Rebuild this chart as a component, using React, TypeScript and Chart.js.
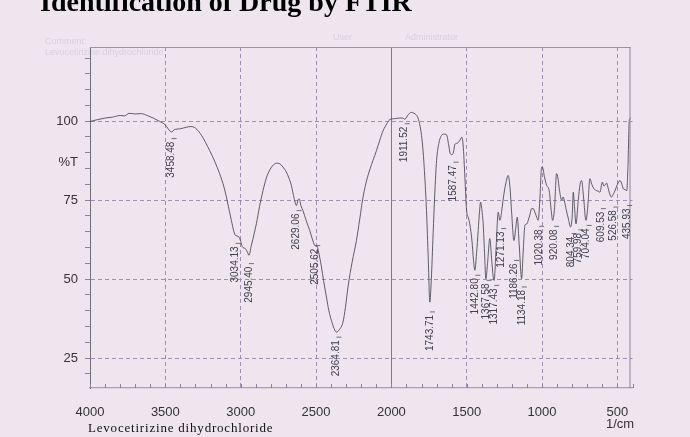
import React, { useEffect, useRef } from 'react';
import { Chart, registerables } from 'chart.js';

Chart.register(...registerables);

// Spectrum trace (wavenumber in 1/cm, transmittance in %T)
const wavenumbers = [
  4000, 3950, 3900, 3850, 3800, 3770, 3740, 3700, 3660, 3620, 3580, 3540, 3500, 3470, 3458, 3440, 3400, 3360, 3330, 3300,
  3260, 3206, 3170, 3140, 3110, 3095, 3075, 3062, 3045, 3034, 3015, 3000, 2990, 2975, 2965, 2955, 2945, 2930, 2910, 2896,
  2875, 2852, 2830, 2819, 2790, 2760, 2740, 2720, 2697, 2680, 2664, 2645, 2630, 2620, 2612, 2600, 2587, 2565, 2542, 2520,
  2506, 2495, 2485, 2464, 2450, 2431, 2415, 2398, 2380, 2364, 2345, 2321, 2305, 2288, 2260, 2232, 2210, 2188, 2160, 2122,
  2099, 2077, 2055, 2030, 2011, 1980, 1944, 1925, 1911, 1895, 1880, 1867, 1850, 1835, 1823, 1810, 1800, 1790, 1778, 1767,
  1755, 1745, 1735, 1723, 1712, 1700, 1685, 1667, 1650, 1634, 1620, 1610, 1598, 1588, 1579, 1565, 1557, 1545, 1534, 1524,
  1512, 1501, 1490, 1480, 1465, 1455, 1446, 1435, 1424, 1415, 1408, 1400, 1391, 1382, 1373, 1362, 1347, 1335, 1325, 1318,
  1305, 1291, 1280, 1268, 1258, 1240, 1225, 1213, 1202, 1187, 1175, 1165, 1152, 1140, 1136, 1126, 1114, 1100, 1092, 1080,
  1070, 1058, 1048, 1035, 1026, 1015, 1003, 997, 985, 970, 953, 940, 930, 918, 904, 895, 886, 870, 860, 853,
  840, 825, 811, 800, 793, 785, 775, 760, 748, 738, 725, 709, 695, 683, 670, 656, 638, 625, 616, 600,
  590, 583, 572, 560, 545, 538, 527, 516, 500, 483, 470, 461, 450, 438, 430, 421, 412
];
const transmittance = [
  99.9, 100.5, 101.0, 101.3, 101.8, 101.7, 102.5, 102.3, 102.4, 101.8, 101.0, 100.0, 98.8, 96.9, 96.6, 97.3, 97.6, 98.1, 98.3, 97.8,
  95.5, 90.7, 87.0, 83.4, 79.0, 76.0, 71.5, 68.6, 65.0, 63.8, 63.5, 62.0, 60.3, 59.8, 59.4, 58.5, 57.5, 60.5, 64.5, 67.5,
  73.0, 78.0, 82.0, 83.4, 85.8, 86.7, 86.5, 85.5, 83.9, 82.0, 79.7, 75.5, 73.3, 75.0, 75.4, 73.2, 71.7, 68.5, 65.4, 62.0,
  60.5, 60.6, 59.0, 53.8, 49.5, 44.3, 40.0, 36.9, 34.3, 33.2, 34.0, 36.4, 41.0, 47.5, 55.5, 62.2, 69.0, 76.0, 82.0, 87.6,
  90.7, 94.0, 97.0, 99.2, 100.5, 100.8, 101.0, 101.0, 100.6, 101.6, 102.5, 102.8, 102.5, 102.0, 101.0, 98.5, 95.5, 90.7, 82.0, 71.7,
  56.0, 42.7, 50.0, 64.4, 77.0, 87.6, 93.0, 95.5, 95.9, 95.7, 92.5, 89.8, 89.4, 90.2, 92.6, 93.0, 93.2, 94.0, 94.9, 92.5,
  82.0, 71.7, 69.5, 67.5, 62.0, 56.0, 52.8, 58.0, 65.4, 71.5, 74.4, 72.0, 67.5, 58.5, 50.1, 55.0, 62.8, 56.5, 51.0, 49.6,
  60.0, 71.2, 68.6, 71.5, 75.4, 80.5, 82.8, 79.0, 71.0, 62.2, 66.0, 69.6, 61.0, 51.5, 50.1, 58.0, 67.0, 67.5, 68.6, 70.5,
  72.3, 72.3, 71.2, 69.5, 68.6, 75.0, 85.4, 85.4, 82.5, 79.7, 78.0, 72.0, 68.6, 72.0, 83.4, 82.0, 78.6, 75.0, 76.0, 75.0,
  72.0, 69.0, 66.5, 70.0, 77.5, 73.0, 67.5, 75.0, 80.0, 81.2, 76.0, 68.6, 74.0, 81.8, 80.0, 78.6, 78.0, 77.8, 77.5, 80.7,
  79.5, 79.7, 80.4, 78.5, 76.2, 76.0, 77.0, 78.0, 80.0, 81.2, 80.0, 78.6, 78.4, 78.0, 86.0, 100.5, 101.0
];

// Peak annotations
const peakWavenumbers = [
  3458.48, 3034.13, 2945.4, 2629.06, 2505.62, 2364.81, 1911.52, 1743.71, 1587.47, 1442.8, 1367.58, 1317.43,
  1271.13, 1186.26, 1134.18, 1020.38, 920.08, 804.34, 759.98, 704.04, 609.53, 526.58, 435.93
];
const peakLabelLevels = [
  94.5, 61.3, 54.9, 71.7, 60.6, 31.6, 99.2, 39.6, 87.0, 51.2, 49.6, 48.0,
  66.0, 55.9, 47.5, 66.7, 66.7, 64.4, 65.6, 67.0, 72.3, 72.8, 73.3
];

const xTickLabels = [4000, 3500, 3000, 2500, 2000, 1500, 1000, 500];
const yTickLabels = [25, 50, 75, 100];

const BG = '#eee5ef';
const GRID = '#9f8db4';

export default function App() {
  const ref = useRef<HTMLCanvasElement | null>(null);

  useEffect(() => {
    document.body.style.margin = '0';
    document.body.style.background = BG;
    const canvas = ref.current;
    if (!canvas) return;

    const decor = {
      id: 'decor',
      beforeDraw(chart: any) {
        const c = chart.ctx;
        c.save();
        c.fillStyle = BG;
        c.fillRect(0, 0, chart.width, chart.height);
        // faint header texts of the scanned sheet
        c.fillStyle = '#dccfdd';
        c.font = '9px "Liberation Sans", Arial, sans-serif';
        c.textBaseline = 'middle';
        c.fillText('Comment:', 45, 42);
        c.fillText('Levocetirizine dihydrochloride', 45, 53);
        c.fillText('User', 333, 38);
        c.fillText('Administrator', 405, 38);
        c.restore();
      },
      afterDraw(chart: any) {
        const c = chart.ctx;
        const a = chart.chartArea;
        const xs = chart.scales.x;
        const ys = chart.scales.y;
        c.save();
        // frame top and right
        c.strokeStyle = '#9a8cc0';
        c.lineWidth = 1.2;
        c.beginPath();
        c.moveTo(a.left, a.top + 0.5);
        c.lineTo(a.right - 2, a.top + 0.5);
        c.stroke();
        c.strokeStyle = '#8a8498';
        c.lineWidth = 1;
        c.beginPath();
        c.moveTo(a.right - 2.5, a.top);
        c.lineTo(a.right - 2.5, a.bottom);
        c.stroke();
        // inward x ticks
        c.strokeStyle = '#8d7f9c';
        c.lineWidth = 1;
        for (const t of xs.ticks) {
          const px = Math.round(xs.getPixelForValue(t.value)) + 0.5;
          c.beginPath();
          c.moveTo(px, a.bottom);
          c.lineTo(px, a.bottom - 4);
          c.stroke();
        }
        // peak labels
        c.font = '10px "Liberation Sans", Arial, sans-serif';
        c.fillStyle = '#404050';
        c.strokeStyle = '#505060';
        c.lineWidth = 0.8;
        peakWavenumbers.forEach((wn, i) => {
          const px = xs.getPixelForValue(wn);
          const py = ys.getPixelForValue(peakLabelLevels[i]);
          c.beginPath();
          c.moveTo(px, py);
          c.lineTo(px + 5, py);
          c.stroke();
          c.save();
          c.translate(px, py + 3);
          c.rotate(-Math.PI / 2);
          c.textAlign = 'right';
          c.textBaseline = 'middle';
          c.fillText(wn.toFixed(2), 0, 0);
          c.restore();
        });
        // axis captions
        c.fillStyle = '#333';
        c.font = '13px "Liberation Sans", Arial, sans-serif';
        c.textBaseline = 'middle';
        c.textAlign = 'right';
        c.fillText('%T', 78, ys.getPixelForValue(87));
        c.textAlign = 'center';
        c.fillText('1/cm', 620, 424);
        // bottom caption
        c.textAlign = 'left';
        c.textBaseline = 'alphabetic';
        c.fillStyle = '#111';
        c.font = '13px "Liberation Serif", "Times New Roman", serif';
        try { (c as any).letterSpacing = '0.8px'; } catch (e) { /* ignore */ }
        c.fillText('Levocetirizine dihydrochloride', 88, 432);
        try { (c as any).letterSpacing = '0px'; } catch (e) { /* ignore */ }
        // title (cut by the top of the sheet)
        c.font = 'bold 28px "Liberation Serif", "Times New Roman", serif';
        c.fillStyle = '#000';
        c.fillText('Identification of Drug by FTIR', 40, 11);
        c.restore();
      }
    };

    const chart = new Chart(canvas, {
      type: 'line',
      data: {
        datasets: [
          {
            data: wavenumbers.map((w, i) => ({ x: w, y: transmittance[i] })),
            borderColor: '#4d4d55',
            borderWidth: 0.9,
            pointRadius: 0,
            fill: false,
            cubicInterpolationMode: 'monotone'
          }
        ]
      },
      options: {
        animation: false,
        responsive: false,
        events: [],
        layout: { padding: { left: 0, top: 47, right: 57.5, bottom: 0 } },
        plugins: { legend: { display: false }, tooltip: { enabled: false }, title: { display: false } },
        scales: {
          x: {
            type: 'linear',
            reverse: true,
            min: 400,
            max: 4000,
            afterFit: (s: any) => { s.height = 49; },
            border: {
              display: true,
              color: '#b59ab8',
              width: 1.3,
              dash: (ctx: any) => (!ctx.tick || ctx.tick.value === 2000 ? [] : [4, 3])
            },
            grid: {
              drawTicks: false,
              color: (ctx: any) => {
                if (!ctx.tick) return 'transparent';
                const v = ctx.tick.value;
                if (v === 2000) return '#7a7a80';
                if (xTickLabels.includes(v) && v !== 4000) return GRID;
                return 'transparent';
              },
              lineWidth: 1
            },
            ticks: {
              stepSize: 100,
              includeBounds: false,
              autoSkip: false,
              maxRotation: 0,
              padding: 17,
              color: '#333',
              font: { family: '"Liberation Sans", Arial, sans-serif', size: 13 },
              callback: (v: any) => (xTickLabels.includes(Number(v)) ? String(v) : '')
            }
          },
          y: {
            type: 'linear',
            min: 15.5,
            max: 123.5,
            afterFit: (s: any) => { s.width = 90; },
            border: {
              display: true,
              color: '#707078',
              width: 1,
              dash: (ctx: any) => (ctx.tick ? [4, 3] : [])
            },
            grid: {
              drawTicks: true,
              tickLength: 5,
              tickColor: '#8f7f9e',
              color: (ctx: any) => (ctx.tick && yTickLabels.includes(ctx.tick.value) ? GRID : 'transparent'),
              lineWidth: 1
            },
            ticks: {
              stepSize: 5,
              includeBounds: false,
              autoSkip: false,
              padding: 7,
              color: '#333',
              font: { family: '"Liberation Sans", Arial, sans-serif', size: 13 },
              callback: (v: any) => (yTickLabels.includes(Number(v)) ? String(v) : '')
            }
          }
        }
      },
      plugins: [decor]
    } as any);

    return () => chart.destroy();
  }, []);

  return (
    <div style={{ width: 690, height: 437, background: BG, position: 'relative' }}>
      <canvas ref={ref} width={690} height={437} style={{ display: 'block' }} />
    </div>
  );
}
